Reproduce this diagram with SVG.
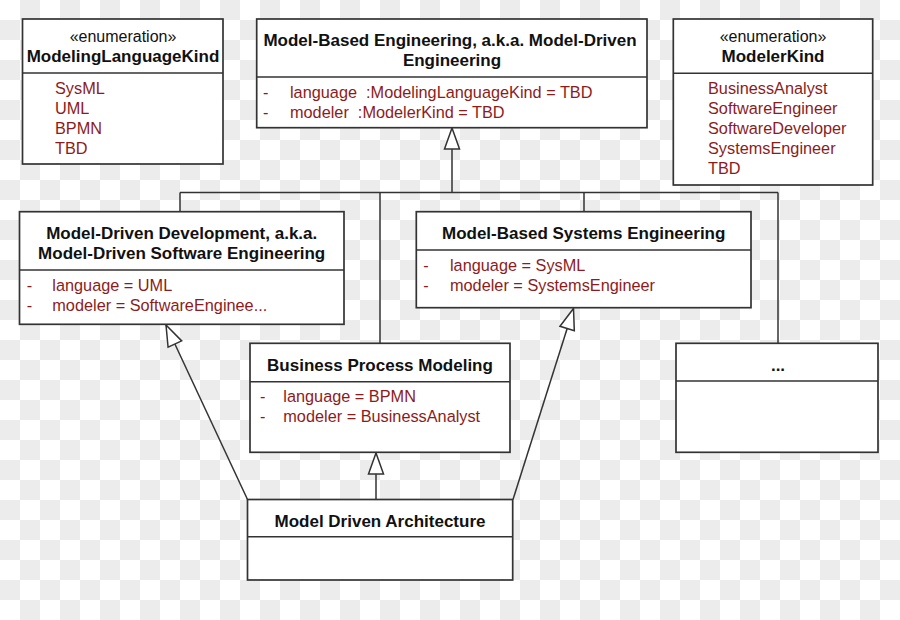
<svg xmlns="http://www.w3.org/2000/svg" width="900" height="620" viewBox="0 0 900 620">
<defs>
<pattern id="checker" x="0" y="0" width="40" height="40" patternUnits="userSpaceOnUse">
<rect width="40" height="40" fill="#ffffff"/>
<rect x="20" y="0" width="20" height="20" fill="#ececec"/>
<rect x="0" y="20" width="20" height="20" fill="#ececec"/>
</pattern>
<marker id="gen" viewBox="-1 -1 23 18" refX="21" refY="8" markerWidth="23" markerHeight="18" markerUnits="userSpaceOnUse" orient="auto" overflow="visible">
<path d="M0,0.5 L21,8 L0,15.5 Z" fill="#ffffff" stroke="#333333" stroke-width="1.5" stroke-linejoin="miter"/>
</marker>
<style>
.box{fill:#ffffff;stroke:#333333;stroke-width:1.7}
.div{stroke:#333333;stroke-width:1.5}
.conn{fill:none;stroke:#333333;stroke-width:1.5}
.st{font-family:"Liberation Sans",Arial,sans-serif;font-size:16px;fill:#111111;text-anchor:middle}
.ttl{font-family:"Liberation Sans",Arial,sans-serif;font-size:17px;font-weight:bold;fill:#111111;text-anchor:middle}
.at{font-family:"Liberation Sans",Arial,sans-serif;font-size:16.3px;fill:#8c1c1c}
</style>
</defs>
<rect width="900" height="620" fill="url(#checker)"/>

<g id="connectors">
<path class="conn" d="M180,192.5 H778"/>
<path class="conn" d="M180,192.5 V211.7"/>
<path class="conn" d="M380,192.5 V343.3"/>
<path class="conn" d="M584,192.5 V211.7"/>
<path class="conn" d="M778,192.5 V343.3"/>
<path class="conn" d="M452,192.5 V128" marker-end="url(#gen)"/>
<path class="conn" d="M247.5,499.5 L166,325" marker-end="url(#gen)"/>
<path class="conn" d="M513,499.5 L573.5,308.5" marker-end="url(#gen)"/>
<path class="conn" d="M376,499.5 V453" marker-end="url(#gen)"/>
</g>

<g id="ModelingLanguageKind">
<rect class="box" x="22.5" y="19" width="200.5" height="145"/>
<line class="div" x1="22.5" y1="73" x2="223" y2="73"/>
<text class="st" x="123" y="42">«enumeration»</text>
<text class="ttl" x="123" y="62">ModelingLanguageKind</text>
<text class="at" x="55" y="94">SysML</text>
<text class="at" x="55" y="114">UML</text>
<text class="at" x="55" y="134">BPMN</text>
<text class="at" x="55" y="154">TBD</text>
</g>

<g id="ModelBasedEngineering">
<rect class="box" x="256.7" y="19" width="390.3" height="108.7"/>
<line class="div" x1="256.7" y1="77" x2="647" y2="77"/>
<text class="ttl" x="450" y="46">Model-Based Engineering, a.k.a. Model-Driven</text>
<text class="ttl" x="452" y="66">Engineering</text>
<text class="at" x="263" y="98">-</text>
<text class="at" x="290" y="98" xml:space="preserve">language  :ModelingLanguageKind = TBD</text>
<text class="at" x="263" y="118">-</text>
<text class="at" x="290" y="118" xml:space="preserve">modeler  :ModelerKind = TBD</text>
</g>

<g id="ModelerKind">
<rect class="box" x="673.3" y="19" width="199.4" height="166"/>
<line class="div" x1="673.3" y1="73.3" x2="872.7" y2="73.3"/>
<text class="st" x="773" y="42">«enumeration»</text>
<text class="ttl" x="773" y="62">ModelerKind</text>
<text class="at" x="708" y="94">BusinessAnalyst</text>
<text class="at" x="708" y="114">SoftwareEngineer</text>
<text class="at" x="708" y="134">SoftwareDeveloper</text>
<text class="at" x="708" y="154">SystemsEngineer</text>
<text class="at" x="708" y="174">TBD</text>
</g>

<g id="ModelDrivenDevelopment">
<rect class="box" x="19.5" y="211.7" width="324.5" height="112.6"/>
<line class="div" x1="19.5" y1="270" x2="344" y2="270"/>
<text class="ttl" x="181.7" y="239">Model-Driven Development, a.k.a.</text>
<text class="ttl" x="181.7" y="259">Model-Driven Software Engineering</text>
<text class="at" x="26.7" y="290.7">-</text>
<text class="at" x="52.3" y="290.7">language = UML</text>
<text class="at" x="26.7" y="310.7">-</text>
<text class="at" x="52.3" y="310.7">modeler = SoftwareEnginee...</text>
</g>

<g id="ModelBasedSystemsEngineering">
<rect class="box" x="416.3" y="211.7" width="334.7" height="96"/>
<line class="div" x1="416.3" y1="250" x2="751" y2="250"/>
<text class="ttl" x="583.7" y="239">Model-Based Systems Engineering</text>
<text class="at" x="423.3" y="271">-</text>
<text class="at" x="450" y="271">language = SysML</text>
<text class="at" x="423.3" y="291">-</text>
<text class="at" x="450" y="291">modeler = SystemsEngineer</text>
</g>

<g id="BusinessProcessModeling">
<rect class="box" x="250" y="343.3" width="260" height="109"/>
<line class="div" x1="250" y1="381.7" x2="510" y2="381.7"/>
<text class="ttl" x="380" y="371">Business Process Modeling</text>
<text class="at" x="260" y="402.3">-</text>
<text class="at" x="283.3" y="402.3">language = BPMN</text>
<text class="at" x="260" y="422.3">-</text>
<text class="at" x="283.3" y="422.3">modeler = BusinessAnalyst</text>
</g>

<g id="Other">
<rect class="box" x="676" y="343.3" width="202" height="109"/>
<line class="div" x1="676" y1="381" x2="878" y2="381"/>
<text class="ttl" x="778" y="371">...</text>
</g>

<g id="ModelDrivenArchitecture">
<rect class="box" x="247.5" y="499.5" width="265.2" height="80.5"/>
<line class="div" x1="247.5" y1="536.7" x2="512.7" y2="536.7"/>
<text class="ttl" x="380" y="527">Model Driven Architecture</text>
</g>
</svg>
